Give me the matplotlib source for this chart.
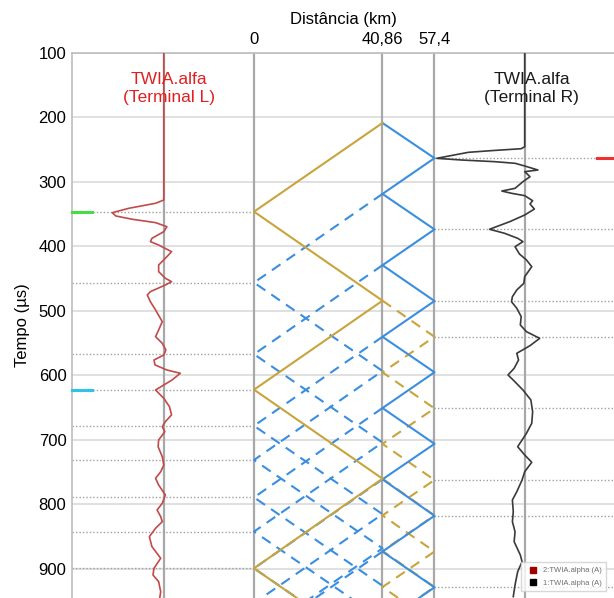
import numpy as np
import matplotlib
matplotlib.use("Agg")
import matplotlib.pyplot as plt
from matplotlib.lines import Line2D

plt.rcParams['font.family'] = ['Liberation Sans', 'DejaVu Sans']

# Posições (km)
x_L, x_F, x_R = 0.0, 40.86, 57.4
base_L, base_R = -28.7, 86.1
dist_ticks = [0, 40.86, 57.4]
dist_labels = ["0", "40,86", "57,4"]
tempo_ticks = [100, 200, 300, 400, 500, 600, 700, 800, 900]

# Diagrama de Bewley : instantes (µs) dos vértices de cada trajeto
ouro_solido = [208.5, 346, 484, 622, 760, 899, 1037]            # falta <-> L
azul_solido = [208.5, 263, 318.5, 373.5, 429, 484.5, 540, 595,
               650.5, 706, 761, 817.5, 873, 928.5, 984]         # falta <-> R
azul_tracejado = [                                                # falta <-> L
    [318.5, 456, 593, 731, 868, 1006],
    [429, 567, 704, 842, 979],
    [540, 678, 815, 953],
    [650.5, 789, 926],
    [761, 899, 1036],
    [873, 1011],
]
ouro_tracejado = [                                                # falta <-> R
    [484, 540, 595, 651, 706, 762, 817, 873, 928, 984],
    [760, 817, 872, 928, 983],
]

# Instantes marcados (linhas pontilhadas)
marcas_L = [346, 456, 567, 622, 678, 731, 789, 842, 899]
marcas_R = [263, 373.5, 484.5, 540, 651, 762, 817.5, 928.5]

# Forma de onda TWIA.alfa - Terminal L (amplitude normalizada)
t_L = [100, 327.9, 333, 340.8, 347.6, 352.7, 357.8, 363, 369.3, 377, 387.3,
       392.5, 397.7, 408, 415.8, 428.7, 439, 449.3, 454.5, 459.7, 470, 475.2,
       485.6, 498.4, 516.6, 529.5, 539.8, 550.1, 560.5, 568.2, 576, 583.7,
       591.5, 596.6, 607, 614.7, 622.5, 635.4, 648.4, 661.2, 671.6, 679.4,
       687.1, 700, 710.4, 725.9, 738.8, 749.2, 759.4, 769.8, 785.3, 798.2,
       808.5, 818.9, 826.7, 836.9, 849.9, 865.4, 883.4, 898.9, 909.3, 919.7,
       935.2, 945.5]
a_L = [0, 0, -0.16, -0.68, -1.0, -0.93, -0.61, -0.16, 0.06, 0, -0.23,
       -0.26, -0.10, 0.15, 0.06, -0.10, -0.10, 0.03, 0.15, 0.03, -0.26, -0.32,
       -0.26, -0.16, -0.03, -0.10, -0.16, -0.03, 0.04, 0, -0.19, -0.17,
       0.06, 0.32, 0.16, 0, -0.16, 0, 0.11, 0.15, 0.03, -0.03,
       0.02, -0.10, -0.11, -0.03, 0, -0.06, -0.16, -0.10, 0.03, -0.03,
       -0.13, -0.06, -0.03, -0.16, -0.28, -0.23, -0.06, -0.19, -0.21, -0.10,
       -0.06, -0.08]

# Forma de onda TWIA.alfa - Terminal R (amplitude normalizada)
t_R = [100, 245.3, 248.4, 251.4, 254, 263.3, 265.9, 268.5, 271, 275.2, 281.4,
       284, 291.8, 299.5, 309.8, 314, 317.5, 321.2, 329, 334.1, 341.9, 351.2,
       361.5, 373.3, 379.5, 387.3, 392.5, 400.3, 411.6, 420.9, 431.3, 446.8,
       457.1, 467.4, 477.8, 485.6, 495.8, 508.8, 521.7, 532.1, 542.4, 553.8,
       565.6, 576, 588.9, 599.2, 608.5, 622.5, 638, 656.1, 674.1, 689.6,
       710.4, 723.3, 734.6, 749.2, 762, 780.2, 793, 811.2, 826.7, 842.2,
       857.7, 878.3, 888.7, 904.2, 924.8, 942.9]
a_R = [0, 0, -0.04, -0.38, -0.64, -1.0, -0.72, -0.34, -0.11, 0, 0.15,
       0, 0.06, -0.02, -0.11, -0.26, -0.15, 0, 0.09, 0.06, 0.11, 0,
       -0.17, -0.40, -0.23, -0.08, -0.02, -0.11, -0.06, 0.02, 0.08, 0,
       -0.01, -0.09, -0.14, -0.15, -0.09, -0.04, -0.05, 0.02, 0.17, 0.06,
       -0.09, -0.07, -0.12, -0.19, -0.12, -0.02, 0.07, 0.09, 0.08, 0.02,
       -0.08, 0, 0.08, 0, -0.03, -0.09, -0.14, -0.13, -0.14, -0.11,
       -0.12, -0.05, -0.03, -0.08, -0.11, -0.13]

escala_L = 16.4   # km por unidade de amplitude
escala_R = 28.0

azul = "#3a8ee0"
ouro = "#c9a43c"

fig = plt.figure(figsize=(6.14, 5.98), dpi=100)
ax = fig.add_axes([72 / 614, 0, 542 / 614, 545 / 598])
ax.set_xlim(-57.9, 114.5)
ax.set_ylim(945, 100)

# grelha horizontal
for t in tempo_ticks:
    ax.axhline(t, color="#dadada", lw=1.2, zorder=0)

# linhas verticais
for xv in [base_L, x_L, x_F, x_R, base_R]:
    ax.axvline(xv, color="#a8a8a8", lw=1.6, zorder=1)

# marcas pontilhadas
x0, x1 = ax.get_xlim()
for t in marcas_L:
    ax.plot([x0, x_L], [t, t], color="#a0a0a0", ls=(0, (1, 1.5)), lw=1.0, zorder=1)
for t in marcas_R:
    ax.plot([x_R, x1], [t, t], color="#a0a0a0", ls=(0, (1, 1.5)), lw=1.0, zorder=1)


def zigzag(tempos, pos_a, pos_b):
    xs = [pos_a if i % 2 == 0 else pos_b for i in range(len(tempos))]
    return xs, tempos


tr = (0, (5, 3.5))
for tempos in azul_tracejado:
    xs, ts = zigzag(tempos, x_F, x_L)
    ax.plot(xs, ts, color=azul, lw=1.5, ls=tr, zorder=2)
for tempos in ouro_tracejado:
    xs, ts = zigzag(tempos, x_F, x_R)
    ax.plot(xs, ts, color=ouro, lw=1.5, ls=tr, zorder=2)
xs, ts = zigzag(azul_solido, x_F, x_R)
ax.plot(xs, ts, color=azul, lw=1.5, zorder=3)
xs, ts = zigzag(ouro_solido, x_F, x_L)
ax.plot(xs, ts, color=ouro, lw=1.5, zorder=3)

# formas de onda
ax.plot(base_L + np.array(a_L) * escala_L, t_L, color="#c24a48", lw=1.2,
        solid_joinstyle="round", zorder=4)
ax.plot(base_R + np.array(a_R) * escala_R, t_R, color="#3a3a3a", lw=1.2,
        solid_joinstyle="round", zorder=4)

# marcadores de chegada
ax.plot([x0, x0 + 6.3], [346, 346], color="#44dd44", lw=2.2, zorder=5, clip_on=False)
ax.plot([x0, x0 + 6.3], [622, 622], color="#2ec4ea", lw=2.2, zorder=5, clip_on=False)
ax.plot([x1 - 5.5, x1], [263, 263], color="#ee3030", lw=2.2, zorder=5)

ax.text(-27, 155, "TWIA.alfa\n(Terminal L)", color="#e02020", fontsize=12.5,
        ha="center", va="center", linespacing=1.25, zorder=6)
ax.text(88.3, 155, "TWIA.alfa\n(Terminal R)", color="#1a1a1a", fontsize=12.5,
        ha="center", va="center", linespacing=1.25, zorder=6)

# eixos
ax.xaxis.set_label_position("top")
ax.xaxis.tick_top()
ax.set_xticks(dist_ticks)
ax.set_xticklabels(dist_labels)
ax.set_yticks(tempo_ticks)
ax.tick_params(length=0, labelsize=12, pad=4)
ax.set_xlabel("Distância (km)", fontsize=12, labelpad=6)
ax.set_ylabel("Tempo (µs)", fontsize=12, labelpad=6)
for s in ["right", "bottom"]:
    ax.spines[s].set_visible(False)
for s in ["left", "top"]:
    ax.spines[s].set_color("#bdbdbd")
    ax.spines[s].set_linewidth(1.2)

handles = [Line2D([], [], ls="", marker="s", color="#a00000", markersize=4),
           Line2D([], [], ls="", marker="s", color="black", markersize=4)]
leg = ax.legend(handles, ["2:TWIA.alpha (A)", "1:TWIA.alpha (A)"], loc="lower right",
                fontsize=5.5, frameon=True, edgecolor="#cfcfcf", fancybox=False,
                borderpad=0.6, handletextpad=0.3, labelspacing=0.7,
                bbox_to_anchor=(0.993, 0.005))
for txt in leg.get_texts():
    txt.set_color("#707070")
leg.set_zorder(7)

fig.savefig("out.png", dpi=100)
